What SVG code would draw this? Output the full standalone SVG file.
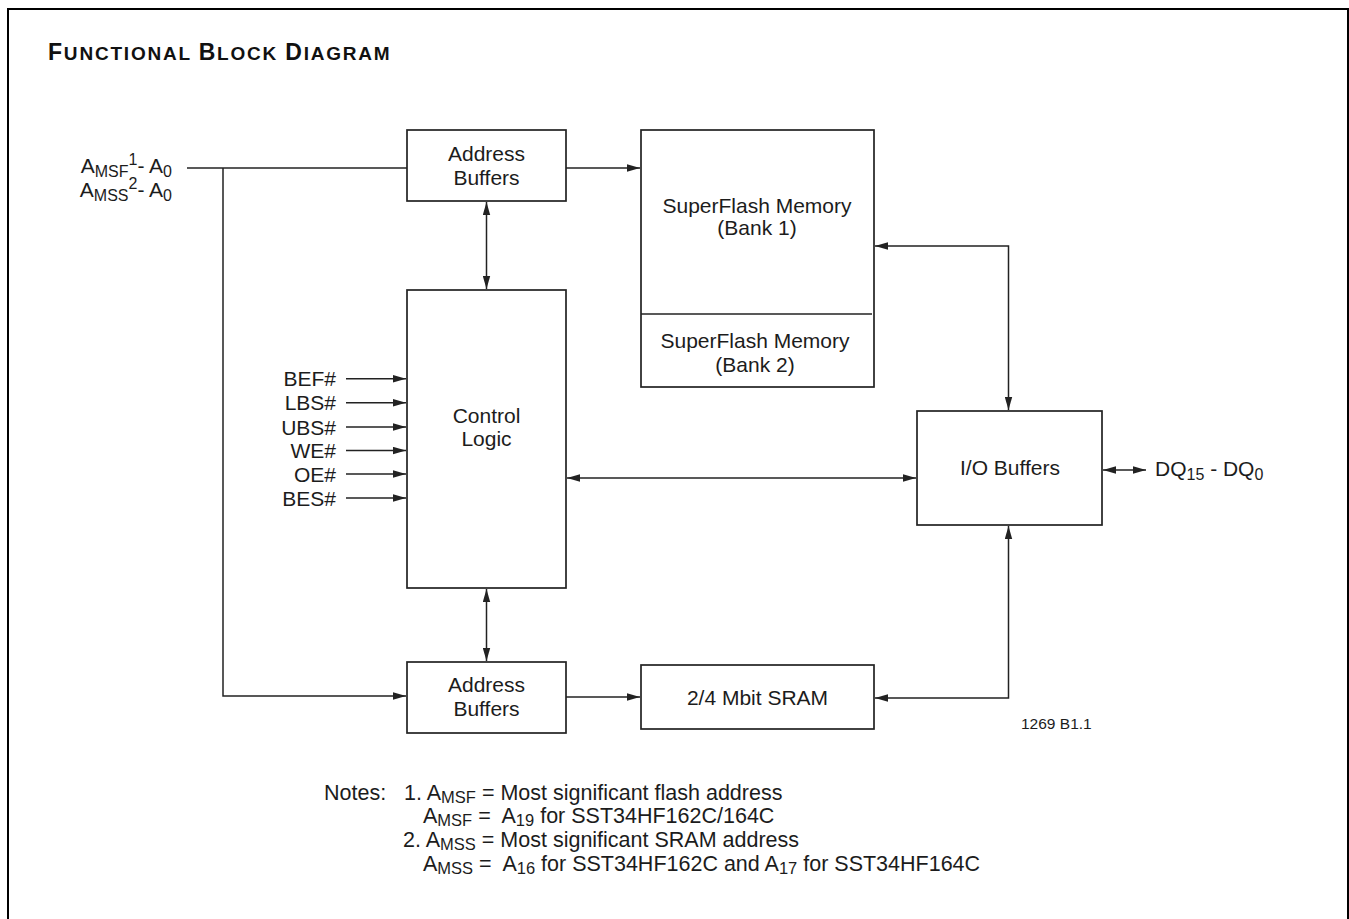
<svg xmlns="http://www.w3.org/2000/svg" width="1349" height="919" viewBox="0 0 1349 919">
<style>
text{font-family:"Liberation Sans",Arial,sans-serif;fill:#1c1c1c}
.t{font-size:21px}
.c{text-anchor:middle}
.e{text-anchor:end}
.s{font-size:16px}
.ns{font-size:16.5px}
.box{fill:#fff;stroke:#222;stroke-width:1.7}
.ln{fill:none;stroke:#222;stroke-width:1.5}
.n{font-size:21.5px;white-space:pre}
</style>
<defs>
<marker id="ah" markerUnits="userSpaceOnUse" markerWidth="13" markerHeight="8" refX="13" refY="4" orient="auto-start-reverse" viewBox="0 0 13 8">
<path d="M0,0.3 L13,4 L0,7.7 z" fill="#222"/>
</marker>
</defs>
<rect width="1349" height="919" fill="#fff"/>
<path d="M8,919 V9 H1348 V919" fill="none" stroke="#000" stroke-width="2"/>
<text x="48" y="60" font-weight="bold" letter-spacing="1.8" style="font-size:19px;fill:#111"><tspan style="font-size:23px">F</tspan>UNCTIONAL <tspan style="font-size:23px">B</tspan>LOCK <tspan style="font-size:23px">D</tspan>IAGRAM</text>

<g id="inputs-addr">
<text class="t e" x="172" y="173">A<tspan class="s" dy="4">MSF</tspan><tspan class="s" dy="-12">1</tspan><tspan dy="8">- A</tspan><tspan class="s" dy="4">0</tspan></text>
<text class="t e" x="172" y="197">A<tspan class="s" dy="4">MSS</tspan><tspan class="s" dy="-12">2</tspan><tspan dy="8">- A</tspan><tspan class="s" dy="4">0</tspan></text>
</g>

<g id="addr-buf-top">
<rect class="box" x="407" y="130" width="159" height="71"/>
<text class="t c" x="486.5" y="161">Address</text>
<text class="t c" x="486.5" y="185">Buffers</text>
</g>

<g id="superflash">
<rect class="box" x="641" y="130" width="233" height="257"/>
<line class="ln" x1="641" y1="314" x2="872" y2="314"/>
<text class="t c" x="757" y="213">SuperFlash Memory</text>
<text class="t c" x="757" y="235">(Bank 1)</text>
<text class="t c" x="755" y="348">SuperFlash Memory</text>
<text class="t c" x="755" y="372">(Bank 2)</text>
</g>

<g id="control-logic">
<rect class="box" x="407" y="290" width="159" height="298"/>
<text class="t c" x="486.5" y="423">Control</text>
<text class="t c" x="486.5" y="446">Logic</text>
</g>

<g id="control-inputs">
<text class="t e" x="336" y="386">BEF#</text>
<text class="t e" x="336" y="410">LBS#</text>
<text class="t e" x="336" y="434.5">UBS#</text>
<text class="t e" x="336" y="458">WE#</text>
<text class="t e" x="336" y="481.5">OE#</text>
<text class="t e" x="336" y="505.5">BES#</text>
</g>

<g id="io-buffers">
<rect class="box" x="917" y="411" width="185" height="114"/>
<text class="t c" x="1010" y="475">I/O Buffers</text>
</g>

<g id="dq-label">
<text class="t" x="1155" y="476">DQ<tspan class="s" dy="4">15</tspan><tspan dy="-4"> - DQ</tspan><tspan class="s" dy="4">0</tspan></text>
</g>

<g id="addr-buf-bottom">
<rect class="box" x="407" y="662" width="159" height="71"/>
<text class="t c" x="486.5" y="692">Address</text>
<text class="t c" x="486.5" y="716">Buffers</text>
</g>

<g id="sram">
<rect class="box" x="641" y="665" width="233" height="64"/>
<text class="t c" x="757.5" y="705">2/4 Mbit SRAM</text>
</g>

<g id="connectors">
<line class="ln" x1="187" y1="168" x2="407" y2="168"/>
<polyline class="ln" points="223,168 223,696 406,696" marker-end="url(#ah)"/>
<line class="ln" x1="566" y1="168" x2="640" y2="168" marker-end="url(#ah)"/>
<line class="ln" x1="486.5" y1="202" x2="486.5" y2="289" marker-start="url(#ah)" marker-end="url(#ah)"/>
<line class="ln" x1="486.5" y1="589" x2="486.5" y2="661" marker-start="url(#ah)" marker-end="url(#ah)"/>
<line class="ln" x1="346" y1="378.7" x2="406" y2="378.7" marker-end="url(#ah)"/>
<line class="ln" x1="346" y1="402.7" x2="406" y2="402.7" marker-end="url(#ah)"/>
<line class="ln" x1="346" y1="427" x2="406" y2="427" marker-end="url(#ah)"/>
<line class="ln" x1="346" y1="450.5" x2="406" y2="450.5" marker-end="url(#ah)"/>
<line class="ln" x1="346" y1="474" x2="406" y2="474" marker-end="url(#ah)"/>
<line class="ln" x1="346" y1="498" x2="406" y2="498" marker-end="url(#ah)"/>
<line class="ln" x1="567" y1="478" x2="916" y2="478" marker-start="url(#ah)" marker-end="url(#ah)"/>
<polyline class="ln" points="875,246 1008.5,246 1008.5,410" marker-start="url(#ah)" marker-end="url(#ah)"/>
<polyline class="ln" points="1008.5,526 1008.5,698 875,698" marker-start="url(#ah)" marker-end="url(#ah)"/>
<line class="ln" x1="1103" y1="470" x2="1146" y2="470" marker-start="url(#ah)" marker-end="url(#ah)"/>
<line class="ln" x1="566" y1="697" x2="640" y2="697" marker-end="url(#ah)"/>
</g>

<text x="1021" y="729" style="font-size:15.5px">1269 B1.1</text>

<g id="notes">
<text class="n" x="324" y="799.5">Notes:</text>
<text class="n" x="404" y="799.5">1. A<tspan class="ns" dy="3">MSF</tspan><tspan dy="-3"> = Most significant flash address</tspan></text>
<text class="n" x="423" y="823">A<tspan class="ns" dy="3">MSF</tspan><tspan dy="-3"> =  A</tspan><tspan class="ns" dy="3">19</tspan><tspan dy="-3"> for SST34HF162C/164C</tspan></text>
<text class="n" x="403" y="847">2. A<tspan class="ns" dy="3">MSS</tspan><tspan dy="-3"> = Most significant SRAM address</tspan></text>
<text class="n" x="423" y="870.5">A<tspan class="ns" dy="3">MSS</tspan><tspan dy="-3"> =  A</tspan><tspan class="ns" dy="3">16</tspan><tspan dy="-3"> for SST34HF162C and A</tspan><tspan class="ns" dy="3">17</tspan><tspan dy="-3"> for SST34HF164C</tspan></text>
</g>
</svg>
